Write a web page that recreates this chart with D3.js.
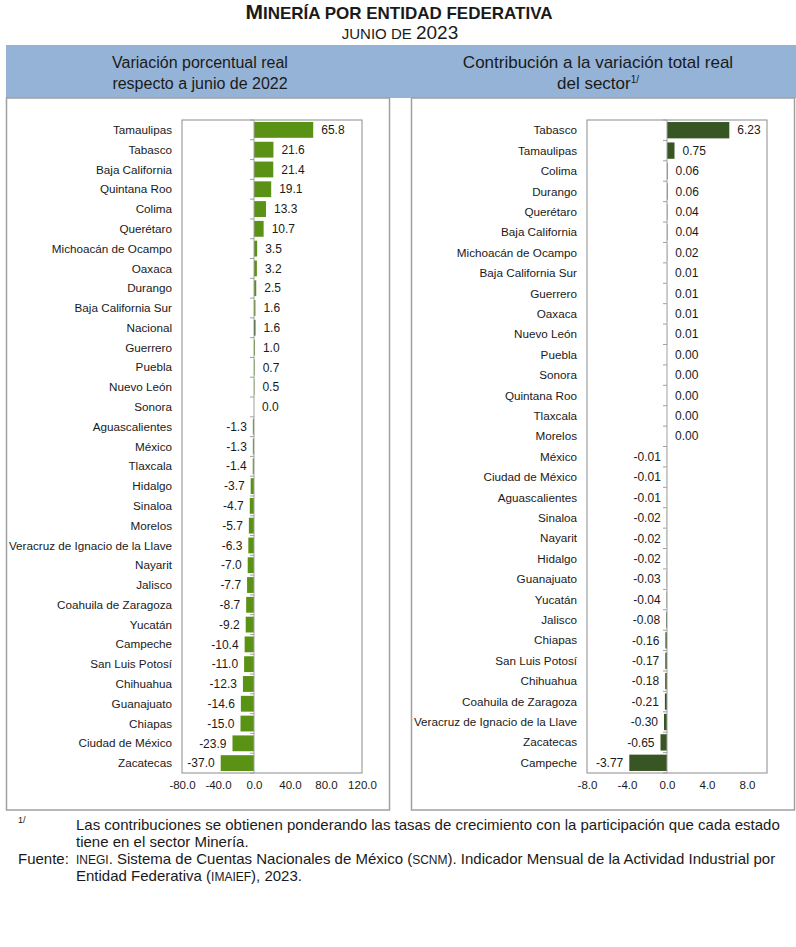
<!DOCTYPE html>
<html>
<head>
<meta charset="utf-8">
<script src="https://cdn.jsdelivr.net/npm/d3@7"></script>
<style>
  body { margin: 0; background: #fff; }
  svg text { font-family: "Liberation Sans", Arial, sans-serif; fill: #1a1a1a; }
</style>
</head>
<body>
<div id="chart"></div>
<script>
// variación porcentual real respecto a junio de 2022
var varStates = ["Tamaulipas", "Tabasco", "Baja California", "Quintana Roo", "Colima", "Querétaro",
  "Michoacán de Ocampo", "Oaxaca", "Durango", "Baja California Sur", "Nacional", "Guerrero", "Puebla",
  "Nuevo León", "Sonora", "Aguascalientes", "México", "Tlaxcala", "Hidalgo", "Sinaloa", "Morelos",
  "Veracruz de Ignacio de la Llave", "Nayarit", "Jalisco", "Coahuila de Zaragoza", "Yucatán", "Campeche",
  "San Luis Potosí", "Chihuahua", "Guanajuato", "Chiapas", "Ciudad de México", "Zacatecas"];
var varValues = [65.8, 21.6, 21.4, 19.1, 13.3, 10.7, 3.5, 3.2, 2.5, 1.6, 1.6, 1.0, 0.7, 0.5, 0.0,
  -1.3, -1.3, -1.4, -3.7, -4.7, -5.7, -6.3, -7.0, -7.7, -8.7, -9.2, -10.4, -11.0, -12.3, -14.6, -15.0, -23.9, -37.0];
var varTicks = [-80, -40, 0, 40, 80, 120];

// contribución a la variación total real del sector
var conStates = ["Tabasco", "Tamaulipas", "Colima", "Durango", "Querétaro", "Baja California",
  "Michoacán de Ocampo", "Baja California Sur", "Guerrero", "Oaxaca", "Nuevo León", "Puebla", "Sonora",
  "Quintana Roo", "Tlaxcala", "Morelos", "México", "Ciudad de México", "Aguascalientes", "Sinaloa",
  "Nayarit", "Hidalgo", "Guanajuato", "Yucatán", "Jalisco", "Chiapas", "San Luis Potosí", "Chihuahua",
  "Coahuila de Zaragoza", "Veracruz de Ignacio de la Llave", "Zacatecas", "Campeche"];
var conValues = [6.23, 0.75, 0.06, 0.06, 0.04, 0.04, 0.02, 0.01, 0.01, 0.01, 0.01, 0.00, 0.00, 0.00, 0.00, 0.00,
  -0.01, -0.01, -0.01, -0.02, -0.02, -0.02, -0.03, -0.04, -0.08, -0.16, -0.17, -0.18, -0.21, -0.30, -0.65, -3.77];
var conTicks = [-8, -4, 0, 4, 8];

var W = 796, H = 947;
var svg = d3.select("#chart").append("svg")
    .attr("width", W)
    .attr("height", H);

// titulo (versalitas hechas a mano)
var t1 = svg.append("text")
    .attr("x", 399).attr("y", 19)
    .attr("text-anchor", "middle")
    .style("font-weight", "bold");
t1.append("tspan").style("font-size", "21px").text("M");
t1.append("tspan").style("font-size", "17px").text("INERÍA POR ENTIDAD FEDERATIVA");
var t2 = svg.append("text")
    .attr("x", 400).attr("y", 39)
    .attr("text-anchor", "middle");
t2.append("tspan").style("font-size", "15px").text("JUNIO DE ");
t2.append("tspan").style("font-size", "19px").text("2023");

// banda azul de encabezados
svg.append("rect")
    .attr("x", 6).attr("y", 45).attr("width", 790).attr("height", 53)
    .attr("fill", "#95b3d7");

var heads = [
  { cx: 200, size: 16, lines: ["Variación porcentual real", "respecto a junio de 2022"] },
  { cx: 598, size: 17, lines: ["Contribución a la variación total real", "del sector"] }
];
heads.forEach(function(h, k) {
  var t = svg.append("text").attr("text-anchor", "middle").style("font-size", h.size + "px");
  h.lines.forEach(function(l, i) {
    t.append("tspan").attr("x", h.cx).attr("y", 68 + i * 21).text(l);
  });
  if (k == 1) {
    t.select("tspan:last-child").append("tspan")
      .attr("dy", -6).style("font-size", "10px").text("1/");
  }
});

// cajas de paneles
svg.append("rect").attr("x", 6.5).attr("y", 98).attr("width", 383).attr("height", 712)
    .attr("fill", "none").attr("stroke", "#a0a0a0").attr("stroke-width", 1.5);
svg.append("rect").attr("x", 411.5).attr("y", 98).attr("width", 383).attr("height", 712)
    .attr("fill", "none").attr("stroke", "#a0a0a0").attr("stroke-width", 1.5);

function panel(opts) {
  var g = svg.append("g").attr("transform", "translate(" + opts.left + ",120)");
  var w = 180, h = 653;

  var x = d3.scaleLinear().domain(opts.domain).range([0, w]);
  var y = d3.scaleBand().domain(d3.range(opts.names.length)).range([0, h]).paddingInner(0.2).paddingOuter(0.1);
  var step = h / opts.names.length;

  g.append("rect").attr("width", w).attr("height", h)
      .attr("fill", "none").attr("stroke", "#8c8c8c").attr("stroke-width", 1);

  // ticks del eje de categorias
  g.selectAll(".ytick")
    .data(d3.range(opts.names.length + 1))
    .enter().append("line")
      .attr("x1", x(0) - 4).attr("x2", x(0))
      .attr("y1", function(d) { return d * step; })
      .attr("y2", function(d) { return d * step; })
      .attr("stroke", "#a0a0a0");

  g.selectAll(".bar")
    .data(opts.values)
    .enter().append("rect")
      .attr("x", function(d) { return x(Math.min(0, d)); })
      .attr("y", function(d, i) { return y(i); })
      .attr("width", function(d) { return Math.abs(x(d) - x(0)); })
      .attr("height", y.bandwidth())
      .attr("fill", function(d, i) { return opts.names[i] == "Nacional" ? "#2f4f1a" : opts.color; });

  g.append("line")
      .attr("x1", x(0)).attr("x2", x(0)).attr("y1", 0).attr("y2", h)
      .attr("stroke", "#a0a0a0");

  // nombres
  g.selectAll(".name")
    .data(opts.names)
    .enter().append("text")
      .attr("x", -10)
      .attr("y", function(d, i) { return y(i) + y.bandwidth() / 2; })
      .attr("dy", "0.35em")
      .attr("text-anchor", "end")
      .style("font-size", "11.7px")
      .text(function(d) { return d; });

  // valores
  g.selectAll(".val")
    .data(opts.values)
    .enter().append("text")
      .attr("x", function(d) { return d < 0 ? x(d) - 6 : x(d) + 8; })
      .attr("y", function(d, i) { return y(i) + y.bandwidth() / 2; })
      .attr("dy", "0.35em")
      .attr("text-anchor", function(d) { return d < 0 ? "end" : "start"; })
      .style("font-size", "12px")
      .text(function(d) { return d3.format(opts.fmt)(d).replace("−", "-"); });

  var ax = g.append("g")
      .attr("transform", "translate(0," + h + ")")
      .call(d3.axisBottom(x).tickValues(opts.ticks).tickSize(0).tickPadding(8)
        .tickFormat(function(d) { return d3.format(".1f")(d).replace("−", "-"); }));
  ax.select(".domain").remove();
  ax.selectAll("text").style("font-size", "11.5px").attr("fill", "#1a1a1a")
      .style("font-family", "'Liberation Sans', Arial, sans-serif");
}

panel({ left: 182, domain: [-80, 120], names: varStates, values: varValues, ticks: varTicks,
        color: "#5a9216", fmt: ".1f" });
panel({ left: 587, domain: [-8, 10], names: conStates, values: conValues, ticks: conTicks,
        color: "#385623", fmt: ".2f" });

// notas
function note(x, y) {
  return svg.append("text")
    .attr("x", x).attr("y", y)
    .style("font-size", "15px");
}
svg.append("text").attr("x", 18).attr("y", 823).style("font-size", "9px").text("1/");
note(76, 830).text("Las contribuciones se obtienen ponderando las tasas de crecimiento con la participación que cada estado");
note(76, 847).text("tiene en el sector Minería.");
note(18, 864).text("Fuente:");
var f1 = note(76, 864);
f1.append("tspan").style("font-size", "12px").text("INEGI");
f1.append("tspan").text(". Sistema de Cuentas Nacionales de México (");
f1.append("tspan").style("font-size", "12px").text("SCNM");
f1.append("tspan").text("). Indicador Mensual de la Actividad Industrial por");
var f2 = note(76, 881);
f2.append("tspan").text("Entidad Federativa (");
f2.append("tspan").style("font-size", "12px").text("IMAIEF");
f2.append("tspan").text("), 2023.");
</script>
</body>
</html>
